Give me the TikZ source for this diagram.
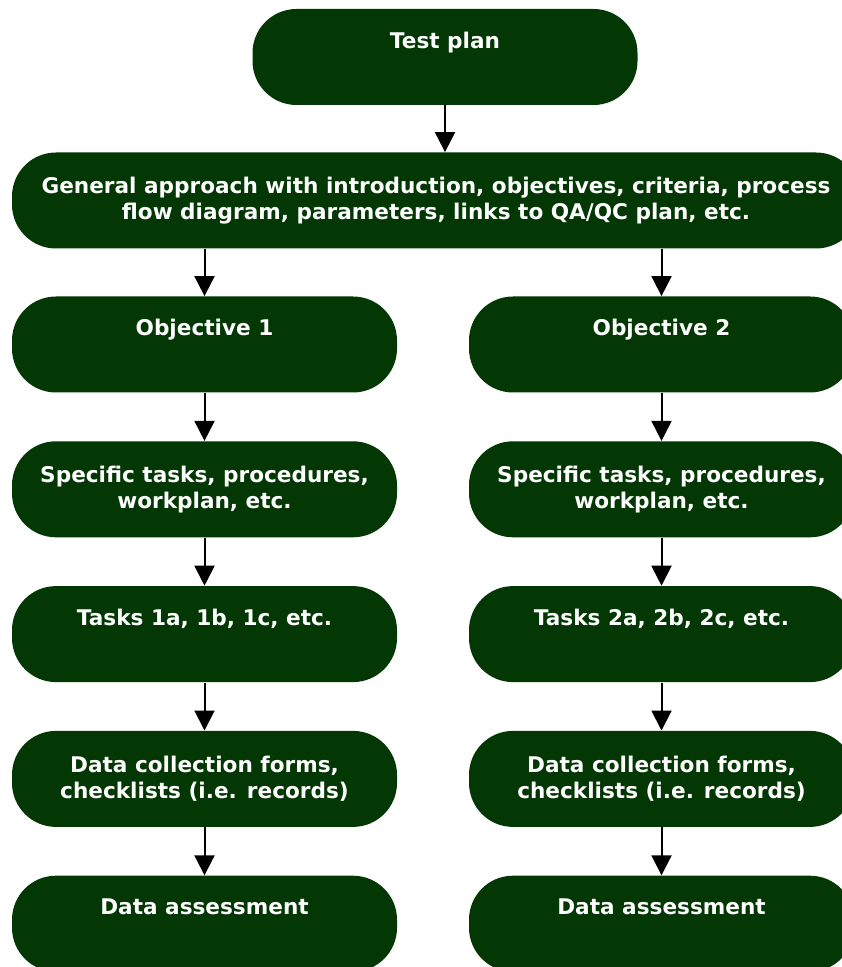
\documentclass[tikz,border=0pt]{standalone}
\usepackage{fontspec}
\setmainfont{DejaVu Sans}
\usetikzlibrary{arrows.meta,positioning}
\definecolor{planGreen}{RGB}{3,55,3}

\begin{document}
\begin{tikzpicture}[
    x=0.5pt, y=-0.5pt,
    stage/.style={fill=planGreen, rounded corners=22pt, minimum width=192.5pt,
        minimum height=48pt, inner sep=0pt, text=white, align=center,
        font=\bfseries\fontsize{10.8}{13}\selectfont},
    flow/.style={-{Triangle[width=10pt,length=10pt]}, line width=1pt},
    node distance=24pt
]
    \useasboundingbox (0,0) rectangle (841,967);
    % plan and general approach
    \node[stage] (plan) at (445,57) {Test plan\\\strut};
    \node[stage, minimum width=424pt] (general) at (436,200.5)
        {General approach with introduction, objectives, criteria, process\\
         flow diagram, parameters, links to QA/QC plan, etc.};
    % objective 1
    \node[stage] (obj1) at (204.5,344.5) {Objective 1\\\strut};
    \node[stage, below=of obj1] (spec1) {Specific tasks, procedures,\\workplan, etc.};
    \node[stage, below=of spec1] (task1) {Tasks 1a, 1b, 1c, etc.\\\strut};
    \node[stage, below=of task1] (form1) {Data collection forms,\\checklists (i.e. records)};
    \node[stage, below=of form1] (assess1) {Data assessment\\\strut};
    % objective 2
    \node[stage] (obj2) at (661.5,344.5) {Objective 2\\\strut};
    \node[stage, below=of obj2] (spec2) {Specific tasks, procedures,\\workplan, etc.};
    \node[stage, below=of spec2] (task2) {Tasks 2a, 2b, 2c, etc.\\\strut};
    \node[stage, below=of task2] (form2) {Data collection forms,\\checklists (i.e. records)};
    \node[stage, below=of form2] (assess2) {Data assessment\\\strut};
    % arrows
    \draw[flow] (plan) -- (plan |- general.north);
    \draw[flow] (obj1 |- general.south) -- (obj1.north);
    \draw[flow] (obj2 |- general.south) -- (obj2.north);
    \foreach \a/\b in {obj1/spec1, spec1/task1, task1/form1, form1/assess1,
                       obj2/spec2, spec2/task2, task2/form2, form2/assess2}
        \draw[flow] (\a) -- (\b);
\end{tikzpicture}
\end{document}
